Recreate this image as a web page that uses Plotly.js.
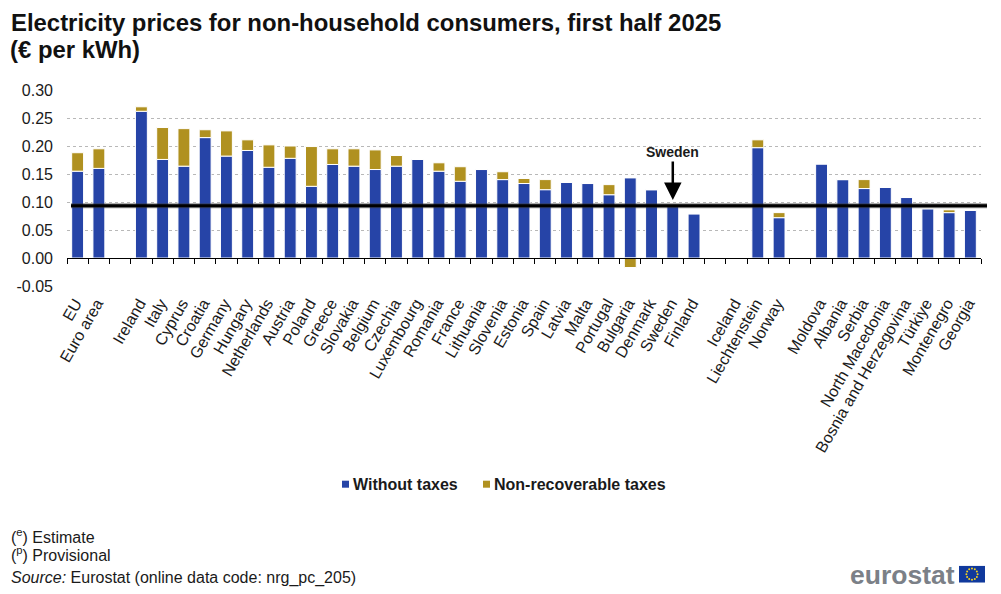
<!DOCTYPE html>
<html><head><meta charset="utf-8">
<script src="https://cdn.plot.ly/plotly-3.0.1.min.js"></script>
<style>html,body{margin:0;padding:0;background:#fff}</style></head>
<body><div id="chart" style="width:1001px;height:594px"></div>
<script>
const categories = ['EU','Euro area',' ','Ireland','Italy','Cyprus','Croatia','Germany','Hungary','Netherlands','Austria','Poland','Greece','Slovakia','Belgium','Czechia','Luxembourg','Romania','France','Lithuania','Slovenia','Estonia','Spain','Latvia','Malta','Portugal','Bulgaria','Denmark','Sweden','Finland','  ','Iceland','Liechtenstein','Norway','   ','Moldova','Albania','Serbia','North Macedonia','Bosnia and Herzegovina','Türkiye','Montenegro','Georgia'];
const withoutTaxes = [0.155,0.160,null,0.262,0.176,0.164,0.215,0.182,0.192,0.162,0.178,0.128,0.167,0.164,0.158,0.164,0.176,0.155,0.137,0.158,0.140,0.133,0.122,0.135,0.133,0.113,0.143,0.122,0.093,0.079,null,null,0.197,0.072,null,0.168,0.140,0.124,0.126,0.108,0.088,0.081,0.085];
const nonRecoverable = [0.033,0.035,null,0.008,0.057,0.067,0.014,0.045,0.019,0.040,0.022,0.071,0.028,0.031,0.035,0.019,0,0.015,0.026,0,0.014,0.009,0.018,0,0,0.018,-0.017,0,0,0,null,null,0.014,0.009,null,0,0,0.016,0,0,0,0.005,0];
const referenceValue = 0.0934;
const yTicks = [-0.05,0,0.05,0.10,0.15,0.20,0.25,0.30];
const BLUE='#2644a7', GOLD='#b09120', FONT='"Liberation Sans", Arial, sans-serif';
const white={color:'#fff',width:1};
const labelled=categories.filter(c=>c.trim()!=='');
const traces=[
 {type:'bar',name:'Without taxes',x:categories,y:withoutTaxes,marker:{color:BLUE,line:white},showlegend:false},
 {type:'bar',name:'Non-recoverable taxes',x:categories,y:nonRecoverable,marker:{color:GOLD,line:white},showlegend:false},
 {type:'scatter',mode:'markers',x:[0,categories.length],y:[null,null],xaxis:'x2',yaxis:'y',showlegend:false,hoverinfo:'skip'}
];
const stars=[];for(let i=0;i<12;i++){const a=i*Math.PI/6;stars.push(`<circle cx="${13+5.6*Math.cos(a)}" cy="${8.5+5.6*Math.sin(a)}" r="1" fill="#f5d21e"/>`);}
const flag='data:image/svg+xml;utf8,'+encodeURIComponent(`<svg xmlns="http://www.w3.org/2000/svg" width="26" height="17" viewBox="0 0 26 17"><rect width="26" height="17" fill="#10399c"/>${stars.join('')}</svg>`);
function note(x,y,text,size,extra){return Object.assign({xref:'paper',yref:'paper',x:(x-3-67)/914,y:(286.3-y)/196,xanchor:'left',yanchor:'middle',text,showarrow:false,align:'left',font:{family:FONT,size:size,color:'#1a1a1a'}},extra||{});}
const layout={
 width:1001,height:594,paper_bgcolor:'#fff',plot_bgcolor:'#fff',showlegend:false,
 margin:{l:67,r:20,t:90.3,b:307.7,pad:0},
 barmode:'relative',bargap:0.44,
 font:{family:FONT,size:16,color:'#1a1a1a'},
 title:{text:'<b>Electricity prices for non-household consumers, first half 2025</b>',x:11/1001,xanchor:'left',y:1-23/594,yanchor:'middle',font:{family:FONT,size:23.9,color:'#111'}},
 xaxis:{type:'category',categoryorder:'array',categoryarray:categories,tickvals:labelled,ticktext:labelled,tickangle:-60,ticks:'',showline:false,showgrid:false,zeroline:false,tickfont:{family:FONT,size:16,color:'#1a1a1a'},ticklabelstandoff:4,ticklabelshift:-2,automargin:false},
 xaxis2:{overlaying:'x',anchor:'free',position:0.05/0.35,range:[0,categories.length],tickmode:'linear',tick0:0,dtick:1,ticks:'outside',ticklen:5,tickwidth:1,tickcolor:'#000',showticklabels:false,showline:true,linecolor:'#000',linewidth:1,showgrid:false,zeroline:false,side:'bottom'},
 yaxis:{range:[-0.05,0.30],tickvals:yTicks,ticktext:yTicks.map(v=>v.toFixed(2)),showline:false,ticks:'',zeroline:false,showgrid:true,gridcolor:'#b8b8b8',griddash:'dot',gridwidth:1,tickfont:{family:FONT,size:16,color:'#1a1a1a'},ticklabelstandoff:13,automargin:false},
 shapes:[
  {type:'line',xref:'paper',yref:'y',x0:4/914,x1:920/914,y0:referenceValue,y1:referenceValue,line:{color:'rgba(60,60,60,0.55)',width:5},layer:'above'},
  {type:'line',xref:'paper',yref:'y',x0:4/914,x1:920/914,y0:referenceValue,y1:referenceValue,line:{color:'#000',width:3},layer:'above'},
  {type:'rect',xref:'paper',yref:'paper',x0:(342-67)/914,x1:(349-67)/914,y0:(286.3-488)/196,y1:(286.3-481)/196,fillcolor:BLUE,line:{width:0}},
  {type:'rect',xref:'paper',yref:'paper',x0:(483-67)/914,x1:(490-67)/914,y0:(286.3-488)/196,y1:(286.3-481)/196,fillcolor:GOLD,line:{width:0}}
 ],
 annotations:[
  {xref:'x',yref:'y',x:'Sweden',y:0.1035,ax:0,ay:-48,text:'<b>Sweden</b>',showarrow:true,arrowhead:2,arrowsize:1.4,arrowwidth:2.5,arrowcolor:'#000',font:{family:FONT,size:14,color:'#1a1a1a'}},
  note(11,50,'<b>(€ per kWh)</b>',23.9,{font:{family:FONT,size:23.9,color:'#111'}}),
  note(354,484.5,'<b>Without taxes</b>',16),
  note(495,484.5,'<b>Non-recoverable taxes</b>',16),
  note(12,536.5,'(<sup>e</sup>) Estimate',16),
  note(12,554.5,'(<sup>p</sup>) Provisional',16),
  note(12,578.5,'<i>Source:</i> Eurostat (online data code: nrg_pc_205)',16),
  note(851,575,'<b>eurostat</b>',26.5,{font:{family:FONT,size:26.5,color:'#7b8087'}})
 ],
 images:[{source:flag,xref:'paper',yref:'paper',x:(959-67)/914,y:(286.3-566)/196,sizex:26/914,sizey:17/196,xanchor:'left',yanchor:'top',sizing:'stretch',layer:'above'}]
};
Plotly.newPlot('chart',traces,layout,{displayModeBar:false,responsive:false});
</script></body></html>
